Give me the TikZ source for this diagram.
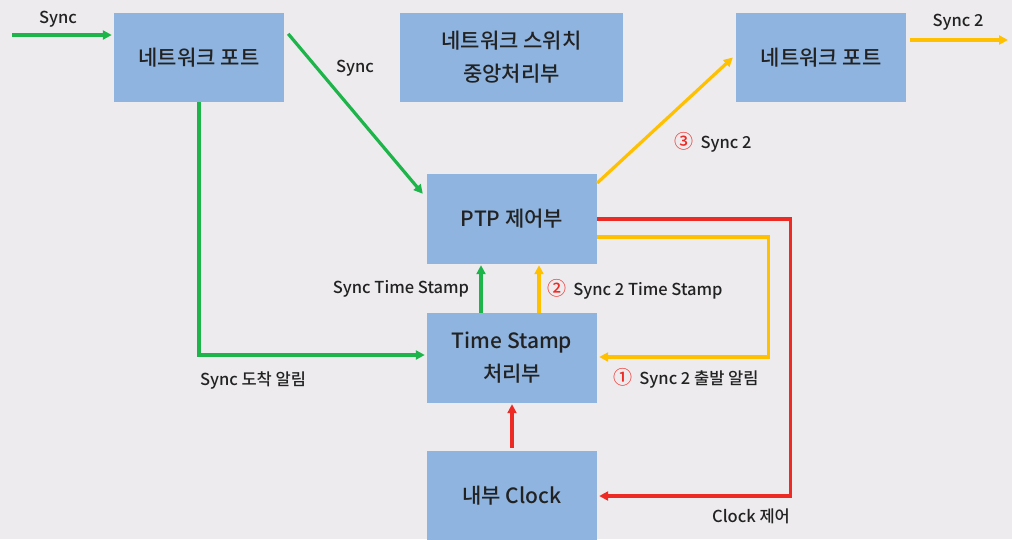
\documentclass[tikz,border=0pt]{standalone}
\usepackage{fontspec}
\setmainfont{Noto Sans CJK KR}[UprightFont=* Medium]
\usetikzlibrary{arrows.meta,calc}
\definecolor{bg}{HTML}{EDEBEE}
\definecolor{boxfill}{HTML}{8EB4DF}
\definecolor{cgreen}{HTML}{1DB54A}
\definecolor{cyellow}{HTML}{FFC000}
\definecolor{cred}{HTML}{EE2A24}
\definecolor{ctext}{HTML}{222222}
\newcommand{\cnum}[1]{{\fontsize{19}{20}\selectfont\textcolor{cred}{#1}}\hspace{7pt}}
\begin{document}
\begin{tikzpicture}[x=1pt,y=-1pt,
  blk/.style={fill=boxfill,draw=none,minimum width=170pt,minimum height=89pt,inner sep=0pt,
    text=ctext,font=\fontsize{21}{33}\selectfont,align=center},
  lbl/.style={text=ctext,font=\fontsize{16.5}{20}\selectfont,inner sep=0pt},
  conn/.style={line width=3.2pt,-{Triangle[length=9pt,width=9pt]}},
  g/.style={conn,draw=cgreen},
  yl/.style={conn,draw=cyellow},
  rd/.style={conn,draw=cred}]
\fill[bg] (0,0) rectangle (1012,539);
\useasboundingbox (0,0) rectangle (1012,539);
% boxes
\node[blk] (np1) at (199,57.5) {네트워크 포트};
\node[blk,minimum width=223pt] (sw) at (511.5,57.5) {네트워크 스위치\\중앙처리부};
\node[blk] (np2) at (821,57.5) {네트워크 포트};
\node[blk,minimum height=90pt] (ptp) at (512,219) {PTP 제어부};
\node[blk,minimum height=90pt] (ts) at (512,358) {Time Stamp\\처리부};
\node[blk,minimum height=90pt] (clk) at (512,496) {내부 Clock};
% free ends
\coordinate (inS) at (12,35);
\coordinate (outS) at (1008,40);
% green
\draw[g] (inS) -- ([xshift=-2pt]inS -| np1.west);
\draw[g] ([xshift=4pt,yshift=-21pt]np1.north east) -- ([xshift=-4pt,yshift=-20pt]ptp.north west);
\draw[g] (np1.south) |- ([xshift=-2pt,yshift=3pt]ts.west);
\draw[g] ([xshift=-31pt]ts.north) -- ([xshift=-31pt,yshift=-1pt]ptp.south);
% yellow
\draw[yl] ([xshift=27pt]ts.north) -- ([xshift=27pt,yshift=-1pt]ptp.south);
\draw[yl] ([yshift=-18pt]ptp.east) -- ++(171,0) |- ([xshift=2pt,yshift=1pt]ts.east);
\draw[yl] ([yshift=36pt]ptp.east) -- ([xshift=-3pt]np2.west);
\draw[yl] ([xshift=4pt,yshift=17.5pt]np2.east) -- (outS);
% red
\draw[rd] (ptp.east) -- ++(193,0) |- ([xshift=2pt]clk.east);
\draw[rd] ([yshift=3pt]clk.north) -- ([yshift=-1pt]ts.south);
% labels
\node[lbl] (l1) at (58,19) {Sync};
\node[lbl] (l2) at (355,68) {Sync};
\node[lbl] (l3) at (253,380) {Sync 도착 알림};
\node[lbl] (l4) at (401,289) {Sync Time Stamp};
\node[lbl] (l5) at (635,289) {\cnum{②}Sync 2 Time Stamp};
\node[lbl] (l6) at (686,378) {\cnum{①}Sync 2 출발 알림};
\node[lbl] (l7) at (751,516) {Clock 제어};
\node[lbl] (l8) at (713,142) {\cnum{③}Sync 2};
\node[lbl] (l9) at (958,22) {Sync 2};
\end{tikzpicture}
\end{document}
